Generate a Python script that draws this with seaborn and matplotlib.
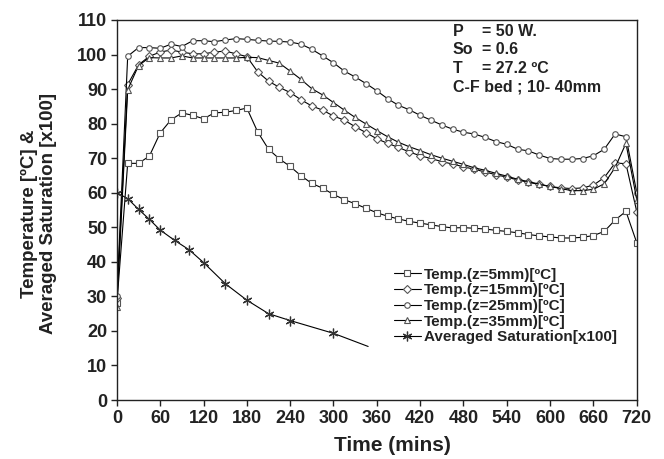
import numpy as np
import pandas as pd
import matplotlib
matplotlib.use("Agg")
import matplotlib.pyplot as plt
import seaborn as sns

# =====================================================
# DATA
# =====================================================

time_min = list(range(0, 721, 15))

temp_z5 = [28.0, 68.5, 68.5, 70.6, 77.3, 81.1, 83.1, 82.4, 81.4, 83.1,
           83.3, 83.8, 84.5, 77.6, 72.6, 69.8, 67.6, 64.9, 62.7, 61.3,
           59.5, 58.0, 56.8, 55.5, 54.2, 53.2, 52.4, 51.7, 51.2, 50.7,
           50.2, 49.8, 49.9, 49.7, 49.5, 49.1, 48.8, 48.4, 47.9, 47.5,
           47.2, 46.9, 46.9, 47.1, 47.6, 48.8, 52.1, 54.6, 45.5]

temp_z15 = [29.5, 91.3, 97.0, 99.5, 100.7, 101.3, 100.7, 100.2, 100.2, 100.7,
            101.0, 100.2, 99.4, 95.0, 92.3, 90.5, 89.0, 86.9, 85.1, 83.9,
            82.2, 81.0, 79.1, 77.4, 75.6, 74.3, 73.1, 71.8, 70.7, 69.9,
            69.0, 68.3, 67.5, 66.8, 66.0, 65.2, 64.5, 63.7, 63.0, 62.4,
            61.8, 61.4, 61.2, 61.4, 62.2, 64.4, 68.6, 68.4, 54.5]

temp_z25 = [30.0, 99.5, 102.0, 102.0, 101.8, 103.0, 102.3, 104.0, 104.0, 103.7,
            104.2, 104.6, 104.4, 104.1, 103.9, 103.8, 103.6, 103.0, 101.5, 99.6,
            97.6, 95.2, 93.5, 91.6, 89.5, 87.2, 85.3, 84.0, 82.4, 81.0,
            79.6, 78.4, 77.5, 77.0, 76.0, 74.8, 74.0, 72.6, 72.1, 70.9,
            69.9, 69.7, 69.7, 69.9, 70.7, 72.6, 77.0, 76.2, 60.0]

temp_z35 = [27.0, 89.8, 96.8, 99.1, 99.0, 99.0, 99.6, 99.0, 99.0, 99.0,
            99.0, 99.0, 99.2, 99.1, 98.3, 97.5, 95.2, 92.8, 90.1, 88.3,
            86.1, 83.9, 81.8, 79.9, 78.0, 76.2, 74.6, 73.3, 72.2, 71.0,
            70.0, 69.1, 68.2, 67.2, 66.5, 65.6, 64.8, 63.9, 63.2, 62.5,
            61.8, 61.2, 60.6, 60.6, 61.0, 62.6, 67.3, 74.3, 58.0]

sat_time = [0, 15, 30, 45, 60, 80, 100, 120, 150, 180, 210, 240, 300, 348]
sat_x100 = [60.0, 58.3, 55.2, 52.3, 49.2, 46.2, 43.5, 39.8, 33.7, 28.9,
            25.0, 23.0, 19.3, 15.5]

labels = ["Temp.(z=5mm)[ºC]", "Temp.(z=15mm)[ºC]", "Temp.(z=25mm)[ºC]",
          "Temp.(z=35mm)[ºC]", "Averaged Saturation[x100]"]

# =====================================================
# STYLE
# =====================================================

sns.set_style("ticks")
plt.rcParams['font.family'] = ['Liberation Sans', 'DejaVu Sans']
plt.rcParams['font.weight'] = 'bold'

fig = plt.figure(figsize=(6.64, 4.59), dpi=100)
ax = fig.add_axes([0.176, 0.1285, 0.783, 0.828])

# =====================================================
# PLOT
# =====================================================

temp_series = [temp_z5, temp_z15, temp_z25, temp_z35]
markers = ['s', 'D', 'o', '^']
msizes = [4.2, 4.2, 4.0, 4.6]

for vals, mk, ms, lab in zip(temp_series, markers, msizes, labels[:4]):
    sns.lineplot(x=time_min, y=vals, ax=ax, color='black', linewidth=0.8,
                 marker=mk, markersize=ms, markerfacecolor='white',
                 markeredgecolor='#555555', markeredgewidth=0.8,
                 label=lab, estimator=None, sort=False)

sns.lineplot(x=sat_time, y=sat_x100, ax=ax, color='black', linewidth=0.8,
             marker=(6, 2, 0), markersize=7, markeredgecolor='#333333',
             markeredgewidth=0.9, markevery=list(range(len(sat_time) - 1)),
             label=labels[4], estimator=None, sort=False)

# =====================================================
# AXES
# =====================================================

ax.set_xlim(0, 720)
ax.set_ylim(0, 110)
ax.set_xticks(np.arange(0, 721, 60))
ax.set_yticks(np.arange(0, 111, 10))
ax.tick_params(axis='both', direction='out', length=4, width=1,
               labelsize=13, colors='#222222', pad=3)
for lab in ax.get_xticklabels() + ax.get_yticklabels():
    lab.set_fontweight('bold')
for sp in ax.spines.values():
    sp.set_visible(True)
    sp.set_color('#222222')
    sp.set_linewidth(1.0)

ax.set_xlabel("Time (mins)", fontsize=15, fontweight='bold', color='#222222', labelpad=7)
ax.xaxis.label.set_x(0.531)
ax.set_ylabel("Temperature [ºC] &\nAveraged Saturation [x100]", fontsize=13.5,
              fontweight='bold', color='#222222', linespacing=1.15)
ax.yaxis.set_label_coords(-0.115, 0.49)

# annotation block
notes_left = ["P", "So", "T", "C-F bed ; 10- 40mm"]
notes_right = ["= 50 W.", "= 0.6", "= 27.2 ºC", ""]
note_y = [0.969, 0.921, 0.871, 0.824]
for nl, nr, yy in zip(notes_left, notes_right, note_y):
    ax.text(0.646, yy, nl, transform=ax.transAxes, fontsize=11.5,
            fontweight='bold', va='center', ha='left', color='#222222')
    if nr:
        ax.text(0.702, yy, nr, transform=ax.transAxes, fontsize=11.5,
                fontweight='bold', va='center', ha='left', color='#222222')

leg = ax.legend(loc='upper left', bbox_to_anchor=(0.533, 0.348), frameon=False,
                fontsize=11, handlelength=1.75, handletextpad=0.2,
                labelspacing=0.11, borderpad=0, borderaxespad=0)
for t in leg.get_texts():
    t.set_fontweight('bold')
    t.set_color('#222222')

fig.savefig("out.png", dpi=100)
